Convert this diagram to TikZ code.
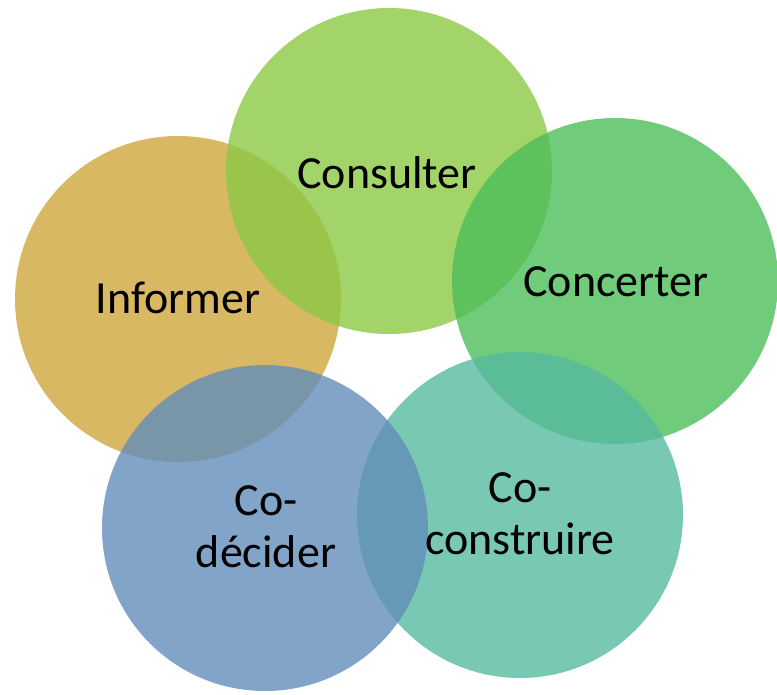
\documentclass[tikz,border=0pt]{standalone}
\usepackage{fontspec}
\setmainfont{Carlito}
\definecolor{cinf}{RGB}{206,166,59}
\definecolor{ccons}{RGB}{140,201,69}
\definecolor{cconc}{RGB}{76,191,89}
\definecolor{ccoc}{RGB}{86,186,161}
\definecolor{ccod}{RGB}{99,141,186}
\begin{document}
\begin{tikzpicture}[x=1pt,y=-1pt,
  disc/.style={circle,minimum size=326pt,inner sep=0pt,fill opacity=0.8,draw=none},
  lbl/.style={font=\fontsize{46}{52}\selectfont,align=center,text=black,inner sep=0pt}]
\useasboundingbox (0,0) rectangle (777,694);
\node[disc,fill=cinf]  (c1) at (178,299) {};
\node[disc,fill=ccons] (c2) at (389,171) {};
\node[disc,fill=cconc] (c3) at (615,281) {};
\node[disc,fill=ccoc]  (c4) at (520,515) {};
\node[disc,fill=ccod]  (c5) at (265,528) {};
\node[lbl] (t1) at (178,298) {Informer};
\node[lbl] (t2) at (387,173) {Consulter};
\node[lbl] (t3) at (616,282) {Concerter};
\node[lbl] (t4) at (520,514) {Co-\\construire};
\node[lbl] (t5) at (266,527) {Co-\\décider};
\end{tikzpicture}
\end{document}
